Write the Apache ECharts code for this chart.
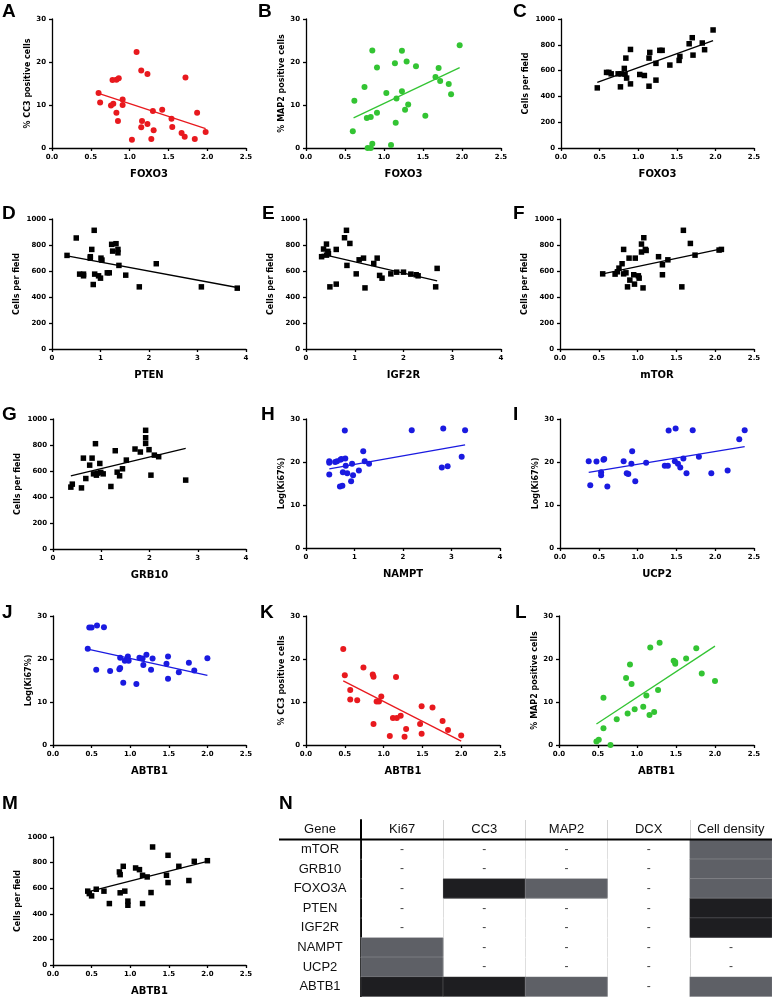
<!DOCTYPE html>
<html>
<head>
<meta charset="utf-8">
<script src="https://cdn.jsdelivr.net/npm/echarts@6/dist/echarts.min.js"></script>
<style>
html, body { margin: 0; padding: 0; background: #fff; }
#main { width: 772px; height: 997px; }
</style>
</head>
<body>
<div id="main"></div>
<script>
// values, [expression, measure]
var foxo3CC3 = [[0.60,12.8],[0.62,10.6],[0.76,9.9],[0.79,10.3],[0.78,15.8],[0.83,15.9],[0.86,16.2],[0.83,8.2],[0.85,6.3],[0.91,11.3],[0.91,10.0],[1.03,1.9],[1.09,22.3],[1.15,18.0],[1.23,17.2],[1.15,4.8],[1.16,6.3],[1.23,5.6],[1.28,2.1],[1.30,8.6],[1.31,4.1],[1.42,8.9],[1.54,6.8],[1.55,4.9],[1.67,3.5],[1.71,2.6],[1.72,16.4],[1.84,2.1],[1.87,8.2],[1.98,3.7]];
var fitA = [[0.60,12.7],[1.98,4.5]];

var foxo3MAP2 = [[0.60,3.9],[0.62,11.0],[0.75,14.2],[0.78,7.0],[0.83,7.2],[0.79,0.0],[0.83,0.0],[0.85,1.0],[0.85,22.7],[0.91,18.7],[0.91,8.2],[1.03,12.8],[1.09,0.7],[1.14,19.7],[1.15,5.9],[1.16,11.5],[1.23,22.6],[1.23,13.2],[1.27,8.9],[1.29,20.1],[1.31,10.1],[1.41,19.0],[1.53,7.5],[1.66,16.5],[1.70,18.6],[1.72,15.6],[1.83,14.9],[1.86,12.5],[1.97,23.9]];
var fitB = [[0.61,7.0],[1.97,18.7]];

var foxo3Cells = [[0.47,466],[0.59,586],[0.62,586],[0.65,575],[0.74,575],[0.78,575],[0.77,474],[0.82,617],[0.83,573],[0.84,697],[0.85,542],[0.90,764],[0.90,497],[1.02,570],[1.08,562],[1.14,697],[1.14,479],[1.15,741],[1.23,656],[1.23,526],[1.28,757],[1.31,757],[1.41,643],[1.53,679],[1.54,710],[1.66,808],[1.70,855],[1.71,720],[1.83,814],[1.86,762],[1.97,915]];
var fitC = [[0.47,508],[1.97,832]];

var ptenCells = [[0.31,720],[0.50,854],[0.57,576],[0.65,576],[0.65,563],[0.79,710],[0.79,699],[0.82,766],[0.85,496],[0.87,913],[0.88,576],[0.96,563],[1.00,545],[1.01,699],[1.03,684],[1.14,586],[1.18,586],[1.23,805],[1.25,753],[1.32,810],[1.36,766],[1.36,740],[1.38,643],[1.52,568],[1.80,478],[2.15,656],[3.08,478],[3.82,468]];
var fitD = [[0.31,717],[3.82,473]];

var igf2rCells = [[0.32,710],[0.36,769],[0.42,807],[0.42,722],[0.45,751],[0.46,733],[0.49,478],[0.62,766],[0.62,499],[0.79,856],[0.83,913],[0.84,643],[0.90,812],[1.03,578],[1.09,686],[1.18,699],[1.21,470],[1.39,658],[1.46,699],[1.51,566],[1.56,545],[1.74,578],[1.86,591],[2.00,591],[2.15,576],[2.26,571],[2.30,563],[2.66,478],[2.69,620]];
var fitE = [[0.32,730],[2.69,524]];

var mtorCells = [[0.55,578],[0.71,576],[0.74,594],[0.76,622],[0.80,656],[0.82,578],[0.85,586],[0.82,766],[0.87,478],[0.89,699],[0.90,530],[0.97,699],[0.95,571],[0.96,499],[1.01,563],[1.02,545],[1.05,807],[1.05,746],[1.07,470],[1.08,856],[1.10,766],[1.11,758],[1.27,710],[1.32,648],[1.32,571],[1.39,686],[1.57,478],[1.59,913],[1.68,812],[1.74,722],[2.05,761],[2.08,766]];
var fitF = [[0.55,578],[2.08,771]];

var grb10Cells = [[0.37,476],[0.40,499],[0.59,470],[0.63,699],[0.68,542],[0.76,645],[0.81,699],[0.84,578],[0.88,810],[0.90,568],[0.92,584],[0.97,658],[0.99,589],[1.04,578],[1.20,481],[1.29,756],[1.33,591],[1.38,563],[1.44,617],[1.52,684],[1.70,769],[1.81,746],[1.92,913],[1.92,856],[1.92,812],[1.99,764],[2.03,568],[2.10,722],[2.19,710],[2.75,530]];
var fitG = [[0.37,563],[2.75,774]];

var namptKi67 = [[0.48,20.2],[0.48,19.8],[0.48,17.1],[0.60,20.0],[0.64,20.2],[0.71,20.5],[0.73,20.7],[0.70,14.3],[0.75,14.5],[0.76,17.6],[0.80,27.3],[0.81,20.8],[0.82,19.1],[0.85,17.4],[0.93,15.5],[0.95,19.6],[0.97,16.9],[1.09,18.0],[1.18,22.5],[1.21,20.2],[1.30,19.6],[2.18,27.4],[2.80,18.7],[2.83,27.8],[2.92,19.0],[3.21,21.2],[3.28,27.4]];
var fitH = [[0.48,18.4],[3.28,24.0]];

var ucp2Ki67 = [[0.37,20.2],[0.39,14.6],[0.47,20.1],[0.53,17.6],[0.53,16.9],[0.56,20.5],[0.57,20.7],[0.61,14.3],[0.82,20.2],[0.86,17.4],[0.88,17.2],[0.93,22.5],[0.92,19.6],[0.97,15.5],[1.11,19.8],[1.35,19.1],[1.39,19.1],[1.40,27.3],[1.49,27.8],[1.48,20.2],[1.52,19.6],[1.55,18.7],[1.59,20.8],[1.63,17.4],[1.71,27.4],[1.79,21.2],[1.95,17.4],[2.16,18.0],[2.31,25.3],[2.38,27.4]];
var fitI = [[0.37,17.6],[2.38,23.6]];

var abtb1Ki67 = [[0.45,22.4],[0.47,27.3],[0.50,27.3],[0.57,27.8],[0.56,17.5],[0.66,27.4],[0.74,17.2],[0.87,20.3],[0.86,17.6],[0.87,17.9],[0.91,14.5],[0.93,19.6],[0.97,20.6],[0.98,19.6],[1.08,14.2],[1.12,20.3],[1.16,20.1],[1.17,18.6],[1.21,21.0],[1.27,17.5],[1.29,20.1],[1.47,18.9],[1.49,20.6],[1.49,15.4],[1.63,16.9],[1.76,19.1],[1.83,17.3],[2.00,20.2]];
var fitJ = [[0.45,22.3],[2.00,16.2]];

var abtb1CC3 = [[0.48,22.3],[0.50,16.2],[0.57,12.8],[0.57,10.6],[0.66,10.4],[0.74,18.0],[0.86,16.4],[0.87,15.9],[0.87,4.9],[0.91,10.1],[0.94,10.1],[0.97,11.3],[1.08,2.1],[1.12,6.3],[1.16,15.8],[1.17,6.3],[1.22,6.8],[1.27,1.9],[1.29,3.7],[1.47,4.9],[1.49,9.0],[1.49,2.6],[1.63,8.7],[1.76,5.6],[1.83,3.5],[2.00,2.2]];
var fitK = [[0.48,14.9],[2.00,0.9]];

var abtb1MAP2 = [[0.48,0.8],[0.51,1.2],[0.57,11.0],[0.57,3.9],[0.66,0.0],[0.74,6.0],[0.86,15.6],[0.88,7.3],[0.91,18.7],[0.93,14.2],[0.97,8.3],[1.08,8.9],[1.12,11.5],[1.16,7.0],[1.17,22.7],[1.22,7.7],[1.27,12.8],[1.29,23.8],[1.47,19.6],[1.49,18.9],[1.49,19.3],[1.63,20.1],[1.76,22.5],[1.83,16.6],[2.00,14.9]];
var fitL = [[0.48,4.9],[2.00,23.0]];

var abtb1Cells = [[0.45,577],[0.47,558],[0.50,540],[0.56,592],[0.66,577],[0.73,480],[0.86,727],[0.87,706],[0.87,564],[0.91,771],[0.93,577],[0.97,499],[0.97,467],[1.07,758],[1.12,745],[1.16,701],[1.16,480],[1.22,688],[1.27,566],[1.29,922],[1.47,701],[1.49,857],[1.49,644],[1.63,771],[1.76,660],[1.83,810],[2.00,815]];
var fitM = [[0.45,571],[2.00,810]];

// summary table
var tableMarkers = ['Ki67', 'CC3', 'MAP2', 'DCX', 'Cell density'];
var tableGenes = ['mTOR', 'GRB10', 'FOXO3A', 'PTEN', 'IGF2R', 'NAMPT', 'UCP2', 'ABTB1'];
// 0 = no correlation (-), 1 = grey, 2 = black
var tableLevels = [
    [0, 0, 0, 0, 1],
    [0, 0, 0, 0, 1],
    [0, 2, 1, 0, 1],
    [0, 0, 0, 0, 2],
    [0, 0, 0, 0, 2],
    [1, 0, 0, 0, 0],
    [1, 0, 0, 0, 0],
    [2, 2, 1, 0, 1]
];

var RED = '#e8191e', GREEN = '#33c433', BLUE = '#1a1ae0', BLACK = '#000';
var CC3 = '% CC3 positive cells', MAP2 = '% MAP2 positive cells', CELLS = 'Cells per field', KI67 = 'Log(Ki67%)';

var panels = [
    {tag: 'A', pts: foxo3CC3, fit: fitA, xName: 'FOXO3', yName: CC3, xMax: 2.5, yMax: 30, color: RED, sq: false, box: [52, 19, 194, 129], gap: 18, tagAt: [2, 2]},
    {tag: 'B', pts: foxo3MAP2, fit: fitB, xName: 'FOXO3', yName: MAP2, xMax: 2.5, yMax: 30, color: GREEN, sq: false, box: [306, 19, 195, 129], gap: 18, tagAt: [258, 2]},
    {tag: 'C', pts: foxo3Cells, fit: fitC, xName: 'FOXO3', yName: CELLS, xMax: 2.5, yMax: 1000, color: BLACK, sq: true, box: [561, 19, 193, 129], gap: 31, tagAt: [513, 2]},
    {tag: 'D', pts: ptenCells, fit: fitD, xName: 'PTEN', yName: CELLS, xMax: 4, yMax: 1000, color: BLACK, sq: true, box: [52, 219, 194, 130], gap: 31, tagAt: [2, 204]},
    {tag: 'E', pts: igf2rCells, fit: fitE, xName: 'IGF2R', yName: CELLS, xMax: 4, yMax: 1000, color: BLACK, sq: true, box: [306, 219, 195, 130], gap: 31, tagAt: [262, 204]},
    {tag: 'F', pts: mtorCells, fit: fitF, xName: 'mTOR', yName: CELLS, xMax: 2.5, yMax: 1000, color: BLACK, sq: true, box: [560, 219, 194, 130], gap: 31, tagAt: [513, 204]},
    {tag: 'G', pts: grb10Cells, fit: fitG, xName: 'GRB10', yName: CELLS, xMax: 4, yMax: 1000, color: BLACK, sq: true, box: [53, 419, 193, 130], gap: 31, tagAt: [2, 405]},
    {tag: 'H', pts: namptKi67, fit: fitH, xName: 'NAMPT', yName: KI67, xMax: 4, yMax: 30, color: BLUE, sq: false, box: [306, 419, 194, 129], gap: 19, tagAt: [261, 405]},
    {tag: 'I', pts: ucp2Ki67, fit: fitI, xName: 'UCP2', yName: KI67, xMax: 2.5, yMax: 30, color: BLUE, sq: false, box: [560, 419, 194, 129], gap: 19, tagAt: [513, 405]},
    {tag: 'J', pts: abtb1Ki67, fit: fitJ, xName: 'ABTB1', yName: KI67, xMax: 2.5, yMax: 30, color: BLUE, sq: false, box: [53, 616, 193, 129], gap: 19, tagAt: [2, 603]},
    {tag: 'K', pts: abtb1CC3, fit: fitK, xName: 'ABTB1', yName: CC3, xMax: 2.5, yMax: 30, color: RED, sq: false, box: [306, 616, 194, 129], gap: 18, tagAt: [260, 603]},
    {tag: 'L', pts: abtb1MAP2, fit: fitL, xName: 'ABTB1', yName: MAP2, xMax: 2.5, yMax: 30, color: GREEN, sq: false, box: [559, 616, 195, 129], gap: 17, tagAt: [515, 603]},
    {tag: 'M', pts: abtb1Cells, fit: fitM, xName: 'ABTB1', yName: CELLS, xMax: 2.5, yMax: 1000, color: BLACK, sq: true, box: [53, 837, 193, 128], gap: 31, tagAt: [2, 794]}
];

var axisFont = 'DejaVu Sans';
var axisLineStyle = {color: '#000', width: 1.3};

var myChart = echarts.init(document.getElementById('main'));

var grid = [], xAxis = [], yAxis = [], series = [], title = [];

panels.forEach(function (p, i) {
    grid.push({left: p.box[0], top: p.box[1], width: p.box[2], height: p.box[3]});
    xAxis.push({
        gridIndex: i, type: 'value', min: 0, max: p.xMax, interval: p.xMax === 4 ? 1 : 0.5,
        axisLine: {show: true, onZero: false, lineStyle: axisLineStyle},
        axisTick: {show: true, length: 3, lineStyle: axisLineStyle},
        splitLine: {show: false},
        axisLabel: {
            fontSize: 7, fontWeight: 'bold', fontFamily: axisFont, color: '#000', margin: 6,
            formatter: function (v) { return p.xMax === 4 ? String(v) : v.toFixed(1); }
        },
        name: p.xName, nameLocation: 'middle', nameGap: 21,
        nameTextStyle: {fontSize: 10, fontWeight: 'bold', fontFamily: axisFont, color: '#000'}
    });
    yAxis.push({
        gridIndex: i, type: 'value', min: 0, max: p.yMax, interval: p.yMax === 30 ? 10 : 200,
        axisLine: {show: true, onZero: false, lineStyle: axisLineStyle},
        axisTick: {show: true, length: 3, lineStyle: axisLineStyle},
        splitLine: {show: false},
        axisLabel: {
            fontSize: 7, fontWeight: 'bold', fontFamily: axisFont, color: '#000', margin: 6,
            formatter: function (v) { return String(v); }
        },
        name: p.yName, nameLocation: 'middle', nameGap: p.gap,
        nameTextStyle: {fontSize: 8, fontWeight: 'bold', fontFamily: axisFont, color: '#000'}
    });
    series.push({
        type: 'scatter', xAxisIndex: i, yAxisIndex: i, data: p.pts,
        symbol: p.sq ? 'rect' : 'circle', symbolSize: p.sq ? 5.5 : 6,
        itemStyle: {color: p.color, opacity: 1}
    });
    series.push({
        type: 'line', xAxisIndex: i, yAxisIndex: i, data: p.fit,
        symbol: 'none', lineStyle: {color: p.color, width: 1.3}
    });
    title.push({
        text: p.tag, left: p.tagAt[0], top: p.tagAt[1], padding: 0,
        textStyle: {fontSize: 19, fontWeight: 'bold', fontFamily: 'Liberation Sans', color: '#000'}
    });
});

// panel N: the table as a heatmap
var t = panels.length;
var fills = ['rgba(0,0,0,0)', '#5e6066', '#1e1e21'];
var cells = [];
tableLevels.forEach(function (row, r) {
    row.forEach(function (lv, c) {
        cells.push({value: [tableMarkers[c], tableGenes[r], lv], itemStyle: {color: fills[lv]}});
    });
});
var tableFont = 'Liberation Sans';

title.push({
    text: 'N', left: 279, top: 794, padding: 0,
    textStyle: {fontSize: 19, fontWeight: 'bold', fontFamily: 'Liberation Sans', color: '#000'}
});
grid.push({left: 361, top: 820, width: 411, height: 176.5});
xAxis.push({
    gridIndex: t, type: 'category', position: 'top', data: tableMarkers,
    axisLine: {show: false}, axisTick: {show: false},
    axisLabel: {inside: true, interval: 0, margin: 3, fontSize: 13, fontFamily: tableFont, color: '#111'},
    splitLine: {show: true, interval: 0, lineStyle: {color: '#d4d4d4', width: 1}}
});
yAxis.push({
    gridIndex: t, type: 'category', inverse: true, data: ['Gene'].concat(tableGenes),
    axisLine: {show: true, lineStyle: {color: '#000', width: 2}}, axisTick: {show: false},
    axisLabel: {align: 'center', interval: 0, margin: 41, fontSize: 13, fontFamily: tableFont, color: '#111'},
    splitLine: {show: false}
});
series.push({
    type: 'heatmap', xAxisIndex: t, yAxisIndex: t, data: cells,
    itemStyle: {borderColor: 'rgba(255,255,255,0.18)', borderWidth: 1},
    label: {
        show: true, fontSize: 12, color: '#444',
        formatter: function (p) { return p.value[2] === 0 ? '-' : ''; }
    },
    emphasis: {disabled: true}
});

option = {
    backgroundColor: '#fff',
    animation: false,
    title: title,
    grid: grid,
    xAxis: xAxis,
    yAxis: yAxis,
    series: series,
    graphic: [
        // rule under the header row, also across the Gene column
        {type: 'line', shape: {x1: 279, y1: 839.6, x2: 772, y2: 839.6}, style: {stroke: '#000', lineWidth: 2}, z: 100}
    ]
};

myChart.setOption(option);
</script>
</body>
</html>
